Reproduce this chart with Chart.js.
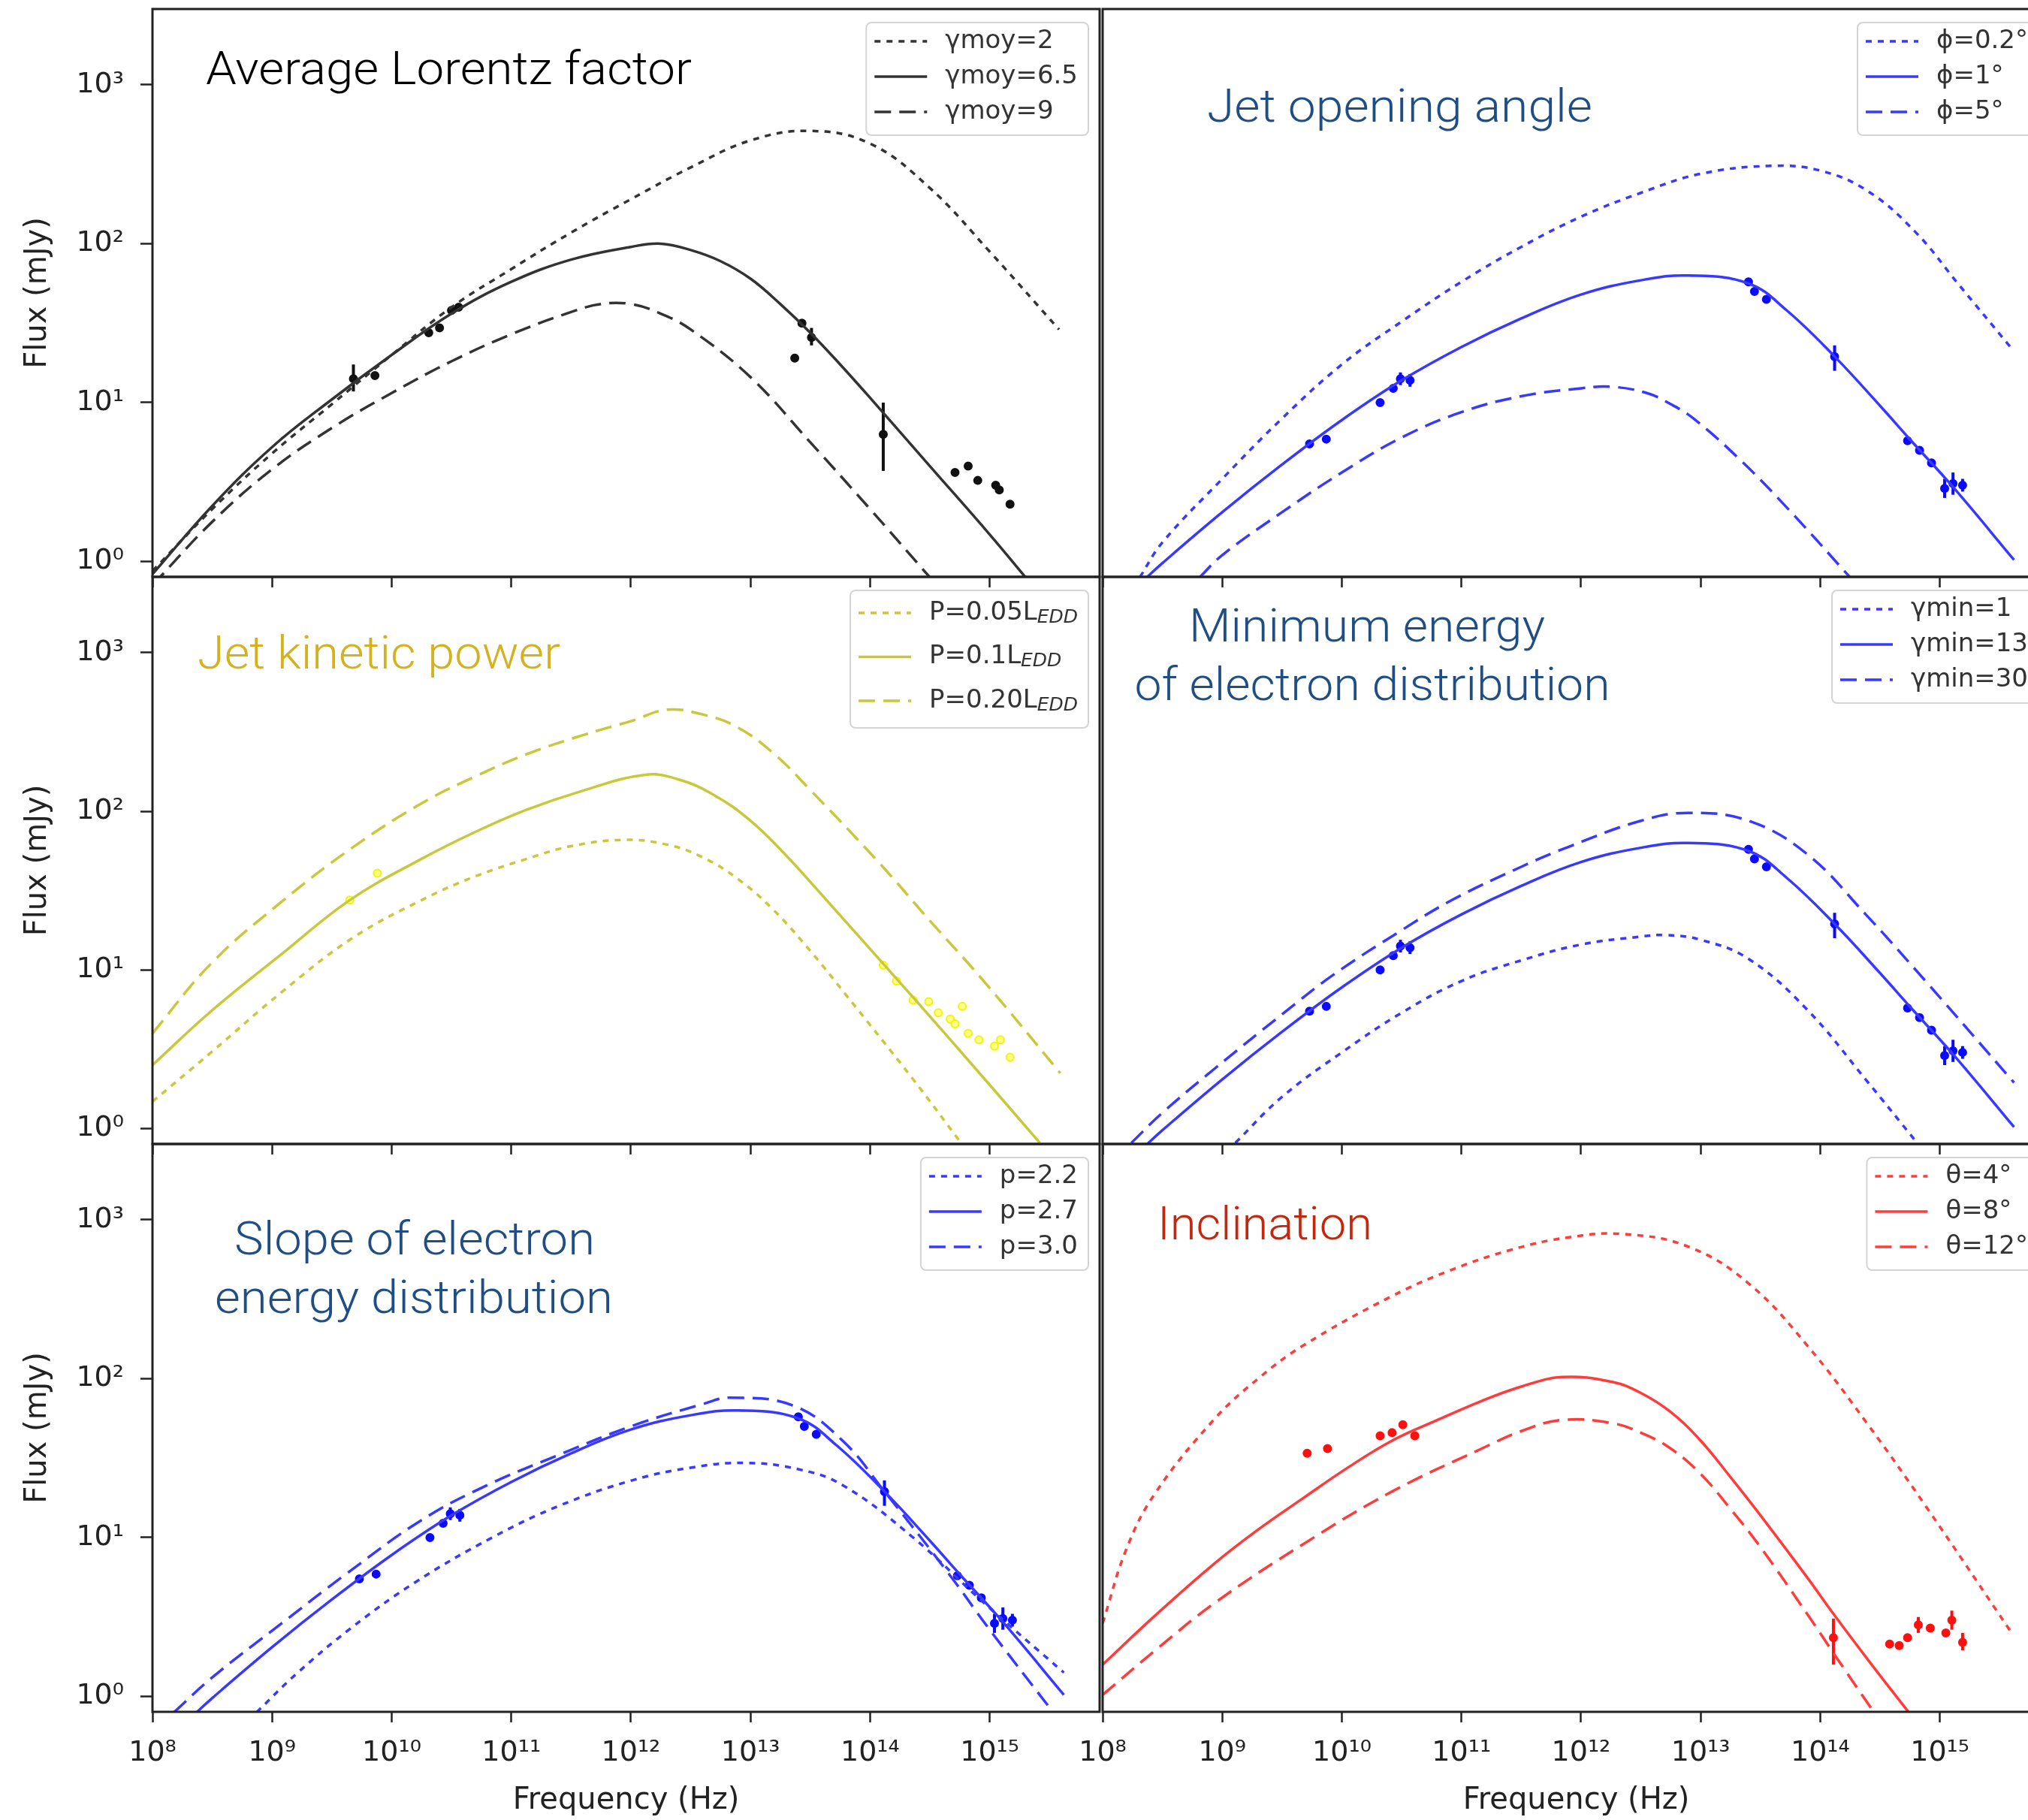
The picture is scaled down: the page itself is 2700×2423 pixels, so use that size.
<!DOCTYPE html>
<html>
<head>
<meta charset="utf-8">
<title>Jet SED parameter study</title>
<script src="https://cdn.jsdelivr.net/npm/chart.js@4.4.1/dist/chart.umd.min.js"></script>
<style>
  html, body { margin: 0; padding: 0; background: #fff; overflow: hidden; }
  body { width: 2700px; height: 2423px; position: relative; }
  canvas { position: absolute; }
</style>
</head>
<body>
<script>
'use strict';

// axis ticks
const xTickValues = [1e8, 1e9, 1e10, 1e11, 1e12, 1e13, 1e14, 1e15];
const xTickLabels = ['10⁸', '10⁹', '10¹⁰', '10¹¹', '10¹²', '10¹³', '10¹⁴', '10¹⁵'];
const yTickValues = [1, 10, 100, 1000];
const yTickLabels = ['10⁰', '10¹', '10²', '10³'];

// all curves: [log10 frequency (Hz), log10 flux (mJy)]

// average Lorentz factor
const lorentzMoy2 = [[8.0,-0.06],[8.5,0.33],[9.0,0.68],[9.5,0.99],[10.0,1.30],[10.5,1.60],[11.0,1.84],[11.5,2.07],[12.0,2.28],[12.5,2.48],[13.0,2.65],[13.5,2.71],[14.0,2.63],[14.5,2.35],[15.0,1.95],[15.58,1.46]];
const lorentzMoy65 = [[8.0,-0.08],[8.5,0.35],[9.0,0.72],[9.5,1.02],[10.0,1.30],[10.5,1.56],[11.0,1.76],[11.5,1.90],[12.0,1.98],[12.25,2.00],[12.5,1.96],[12.75,1.89],[13.0,1.78],[13.25,1.62],[13.5,1.44],[13.75,1.24],[14.0,1.03],[14.5,0.60],[15.0,0.17],[15.3,-0.10]];
const lorentzMoy9 = [[8.0,-0.15],[8.5,0.25],[9.0,0.58],[9.5,0.84],[10.0,1.06],[10.5,1.26],[11.0,1.43],[11.5,1.57],[11.75,1.62],[12.0,1.62],[12.25,1.56],[12.5,1.46],[13.0,1.16],[13.5,0.75],[14.0,0.33],[14.5,-0.10]];
const obsLorentz = [[9.68,1.15],[9.86,1.17],[10.31,1.44],[10.40,1.47],[10.50,1.58],[10.56,1.60],[13.37,1.28],[13.43,1.50],[13.51,1.41],[14.11,0.80],[14.71,0.56],[14.82,0.60],[14.90,0.51],[15.05,0.48],[15.08,0.45],[15.17,0.36]];
const errLorentz = [[9.68,1.07,1.24],[13.51,1.36,1.47],[14.11,0.57,1.00]];

// reference model (phi=1, gamma_min=13, p=2.7) shared by three panels
const fiducial = [[8.37,-0.10],[8.5,-0.01],[9.0,0.31],[9.5,0.61],[10.0,0.89],[10.5,1.14],[11.0,1.35],[11.5,1.53],[12.0,1.68],[12.5,1.77],[12.9,1.80],[13.4,1.75],[13.72,1.58],[14.12,1.29],[14.5,0.98],[14.76,0.76],[15.12,0.46],[15.62,0.01]];
const obsBlue = [[9.73,0.74],[9.87,0.77],[10.32,1.00],[10.43,1.09],[10.49,1.15],[10.57,1.14],[13.40,1.76],[13.45,1.70],[13.55,1.65],[14.12,1.29],[14.73,0.76],[14.83,0.70],[14.93,0.62],[15.04,0.46],[15.11,0.49],[15.19,0.48]];
const errBlue = [[10.49,1.11,1.19],[10.57,1.10,1.18],[14.12,1.20,1.36],[15.04,0.40,0.52],[15.11,0.42,0.56],[15.19,0.44,0.52]];

// jet opening angle
const phi02 = [[8.31,-0.10],[8.5,0.12],[9.0,0.52],[9.5,0.90],[10.0,1.24],[10.5,1.51],[11.0,1.76],[11.5,1.98],[12.0,2.17],[12.5,2.32],[13.0,2.44],[13.6,2.49],[14.0,2.46],[14.4,2.33],[14.8,2.07],[15.15,1.75],[15.59,1.35]];
const phi5 = [[8.81,-0.10],[9.0,0.04],[9.5,0.31],[10.0,0.56],[10.5,0.78],[11.0,0.94],[11.5,1.04],[12.0,1.09],[12.25,1.10],[12.55,1.06],[12.75,0.99],[12.94,0.90],[13.33,0.64],[13.72,0.34],[14.25,-0.10]];

// jet kinetic power
const power005 = [[8.0,0.17],[8.49,0.48],[9.08,0.86],[9.67,1.20],[10.25,1.44],[10.7,1.59],[11.13,1.70],[11.5,1.78],[11.95,1.82],[12.3,1.79],[12.6,1.71],[12.9,1.57],[13.19,1.38],[13.5,1.12],[13.78,0.86],[14.36,0.31],[14.76,-0.09]];
const power01 = [[8.0,0.40],[8.49,0.74],[9.08,1.10],[9.65,1.44],[10.25,1.70],[10.7,1.87],[11.13,2.01],[11.6,2.13],[12.12,2.23],[12.4,2.20],[12.7,2.10],[13.0,1.94],[13.3,1.72],[13.6,1.47],[14.12,1.03],[14.66,0.57],[15.42,-0.09]];
const power020 = [[8.0,0.60],[8.49,1.04],[9.08,1.43],[9.67,1.77],[10.25,2.05],[10.7,2.22],[11.13,2.36],[11.6,2.48],[12.01,2.57],[12.3,2.64],[12.6,2.61],[12.89,2.53],[13.2,2.36],[13.48,2.15],[14.07,1.68],[14.5,1.31],[14.95,0.93],[15.59,0.35]];
const obsYellow = [[9.65,1.44],[9.88,1.61],[14.11,1.03],[14.22,0.93],[14.36,0.81],[14.49,0.80],[14.57,0.73],[14.67,0.69],[14.71,0.66],[14.77,0.77],[14.82,0.60],[14.91,0.56],[15.04,0.52],[15.09,0.56],[15.17,0.45]];

// minimum electron energy
const gmin1 = [[9.11,-0.09],[9.5,0.20],[10.0,0.48],[10.5,0.73],[11.0,0.93],[11.5,1.06],[12.0,1.16],[12.5,1.21],[12.7,1.22],[13.0,1.19],[13.4,1.07],[13.89,0.75],[14.39,0.30],[14.81,-0.09]];
const gmin30 = [[8.24,-0.09],[8.5,0.10],[8.94,0.38],[9.5,0.72],[9.93,0.97],[10.5,1.25],[10.92,1.44],[11.5,1.65],[11.91,1.78],[12.5,1.94],[12.9,1.99],[13.4,1.94],[13.89,1.73],[14.38,1.35],[14.88,0.93],[15.62,0.29]];

// electron slope
const slope22 = [[8.87,-0.10],[9.2,0.14],[9.66,0.43],[10.2,0.72],[10.84,1.00],[11.4,1.20],[12.01,1.36],[12.5,1.44],[12.95,1.47],[13.4,1.43],[13.77,1.33],[14.36,1.00],[14.95,0.59],[15.62,0.15]];
const slope30 = [[8.18,-0.10],[8.5,0.12],[9.08,0.46],[9.6,0.76],[10.25,1.11],[10.8,1.33],[11.43,1.53],[12.0,1.70],[12.6,1.84],[12.83,1.88],[13.36,1.83],[13.77,1.61],[14.11,1.30],[14.65,0.78],[15.0,0.42],[15.5,-0.07]];

// inclination
const incl4 = [[8.0,0.46],[8.2,0.93],[8.44,1.28],[8.94,1.75],[9.3,2.00],[9.68,2.21],[10.42,2.52],[10.9,2.68],[11.41,2.81],[11.9,2.89],[12.36,2.91],[12.9,2.83],[13.4,2.60],[13.89,2.21],[14.39,1.72],[14.88,1.20],[15.6,0.40]];
const incl8 = [[8.0,0.20],[8.44,0.51],[8.94,0.84],[9.3,1.05],[9.68,1.25],[10.05,1.44],[10.42,1.61],[10.8,1.74],[11.17,1.86],[11.5,1.95],[11.84,2.01],[12.26,1.98],[12.5,1.91],[12.75,1.79],[13.0,1.61],[13.25,1.38],[13.5,1.14],[13.89,0.75],[14.11,0.52],[14.42,0.21],[14.74,-0.10]];
const incl12 = [[8.0,0.01],[8.44,0.29],[8.94,0.59],[9.68,0.96],[10.42,1.29],[11.17,1.56],[11.5,1.67],[11.84,1.74],[12.26,1.72],[12.5,1.66],[12.75,1.56],[13.0,1.40],[13.25,1.18],[13.5,0.94],[13.89,0.52],[14.14,0.24],[14.44,-0.09]];
const obsRed = [[9.71,1.53],[9.88,1.56],[10.32,1.64],[10.42,1.66],[10.51,1.71],[10.61,1.64],[14.11,0.37],[14.58,0.33],[14.66,0.32],[14.73,0.37],[14.82,0.45],[14.92,0.43],[15.05,0.40],[15.10,0.48],[15.19,0.34]];
const errRed = [[14.11,0.20,0.49],[14.82,0.40,0.50],[15.10,0.42,0.54],[15.19,0.29,0.40]];

const SOLID = [];
const DOTTED = [8, 8];
const DASHED = [22, 11];
const TICK_FONT = { family: 'DejaVu Sans', size: 38 };
const LABEL_FONT = { family: 'DejaVu Sans', size: 40 };
const LEG_NORMAL = { first: 25, row: 47, last: 31 };
const LEG_TALL = { first: 30, row: 58.5, last: 36 };

const COLS = [{ left: 0, width: 1471, padL: 0, yW: 203 }, { left: 1398, width: 1338, padL: 70, yW: 0 }];
const ROWS = [{ top: 2, height: 782, axisH: 16 }, { top: 758, height: 781, axisH: 16 }, { top: 1513, height: 910, axisH: 144 }];

const panels = [
  { id: 'lorentz', col: 0, row: 0, line: '#333333', ptFill: '#111111', ptEdge: '#111111', titleColor: '#000000',
    titles: [{ text: 'Average Lorentz factor', x: 71, y: 100, w: 647 }],
    curves: [[lorentzMoy2, 'γmoy=2', '', DOTTED], [lorentzMoy65, 'γmoy=6.5', '', SOLID], [lorentzMoy9, 'γmoy=9', '', DASHED]],
    obs: obsLorentz, err: errLorentz, legend: LEG_NORMAL },
  { id: 'angle', col: 1, row: 0, line: '#3838ff', ptFill: '#0a0aff', ptEdge: '#0a0aff', titleColor: '#1f4e85',
    titles: [{ text: 'Jet opening angle', x: 139, y: 150, w: 513 }],
    curves: [[phi02, 'ϕ=0.2°', '', DOTTED], [fiducial, 'ϕ=1°', '', SOLID], [phi5, 'ϕ=5°', '', DASHED]],
    obs: obsBlue, err: errBlue, legend: LEG_NORMAL },
  { id: 'power', col: 0, row: 1, line: '#c8c83c', ptFill: '#ffff8c', ptEdge: '#f4f400', titleColor: '#d4b11f',
    titles: [{ text: 'Jet kinetic power', x: 60, y: 122, w: 483 }],
    curves: [[power005, 'P=0.05L', 'EDD', DOTTED], [power01, 'P=0.1L', 'EDD', SOLID], [power020, 'P=0.20L', 'EDD', DASHED]],
    obs: obsYellow, err: [], legend: LEG_TALL },
  { id: 'gmin', col: 1, row: 1, line: '#3838ff', ptFill: '#0a0aff', ptEdge: '#0a0aff', titleColor: '#1f4e85',
    titles: [{ text: 'Minimum energy', cx: 352, y: 86, w: 474 }, { text: 'of electron distribution', cx: 359, y: 164, w: 633 }],
    curves: [[gmin1, 'γmin=1', '', DOTTED], [fiducial, 'γmin=13', '', SOLID], [gmin30, 'γmin=30', '', DASHED]],
    obs: obsBlue, err: errBlue, legend: LEG_NORMAL },
  { id: 'slope', col: 0, row: 2, line: '#3838ff', ptFill: '#0a0aff', ptEdge: '#0a0aff', titleColor: '#1f4e85',
    titles: [{ text: 'Slope of electron', cx: 349, y: 147, w: 480 }, { text: 'energy distribution', cx: 348, y: 225, w: 530 }],
    curves: [[slope22, 'p=2.2', '', DOTTED], [fiducial, 'p=2.7', '', SOLID], [slope30, 'p=3.0', '', DASHED]],
    obs: obsBlue, err: errBlue, legend: LEG_NORMAL },
  { id: 'incl', col: 1, row: 2, line: '#ff3c3c', ptFill: '#ff1010', ptEdge: '#ff1010', titleColor: '#c4260e',
    titles: [{ text: 'Inclination', x: 73, y: 127, w: 286 }],
    curves: [[incl4, 'θ=4°', '', DOTTED], [incl8, 'θ=8°', '', SOLID], [incl12, 'θ=12°', '', DASHED]],
    obs: obsRed, err: errRed, legend: LEG_NORMAL }
];

function pts(pairs) {
  return pairs.map(p => ({ x: Math.pow(10, p[0]), y: Math.pow(10, p[1]) }));
}

function buildDatasets(p) {
  const ds = [];
  p.curves.forEach(c => {
    ds.push({
      label: c[1], labelSub: c[2], inLegend: true,
      data: pts(c[0]), showLine: true, pointRadius: 0,
      borderColor: p.line, borderWidth: 3.5, borderDash: c[3],
      tension: 0.4, clip: 0
    });
  });
  ds.push({
    data: pts(p.obs), showLine: false, pointRadius: 5, pointHoverRadius: 5,
    pointBackgroundColor: p.ptFill, pointBorderColor: p.ptEdge, pointBorderWidth: 2, clip: 0
  });
  p.err.forEach(e => {
    ds.push({
      data: [{ x: Math.pow(10, e[0]), y: Math.pow(10, e[1]) }, { x: Math.pow(10, e[0]), y: Math.pow(10, e[2]) }],
      showLine: true, pointRadius: 0, borderColor: p.ptEdge, borderWidth: 4, clip: 0
    });
  });
  return ds;
}

// titles, legend box and frame drawn on top of each panel
function makeDecor(p) {
  return {
    id: 'decor',
    afterDraw(chart) {
      const ctx = chart.ctx, a = chart.chartArea;
      ctx.save();

      ctx.fillStyle = p.titleColor;
      ctx.font = '300 61px Roboto, "Helvetica Neue", Inter, "Liberation Sans", sans-serif';
      ctx.textAlign = 'left';
      ctx.textBaseline = 'alphabetic';
      p.titles.forEach(t => {
        const m = ctx.measureText(t.text).width;
        const left = t.cx !== undefined ? t.cx - t.w / 2 : t.x;
        ctx.save();
        ctx.translate(a.left + left, a.top + t.y);
        ctx.scale(t.w / m, 1);
        ctx.fillText(t.text, 0, 0);
        ctx.restore();
      });

      const L = p.legend;
      const items = chart.data.datasets.filter(d => d.inLegend);
      let maxW = 0;
      items.forEach(d => {
        ctx.font = '34px "DejaVu Sans"';
        let w = ctx.measureText(d.label).width;
        if (d.labelSub) {
          ctx.font = 'italic 25px "DejaVu Sans"';
          w += ctx.measureText(d.labelSub).width;
        }
        maxW = Math.max(maxW, w);
      });
      const boxW = 105 + maxW + 14;
      const boxH = L.first + L.row * (items.length - 1) + L.last;
      const bx = a.right - 15 - boxW;
      const by = a.top + 18;
      ctx.beginPath();
      ctx.roundRect(bx, by, boxW, boxH, 7);
      ctx.fillStyle = 'rgba(255,255,255,0.85)';
      ctx.fill();
      ctx.strokeStyle = '#d4d4d4';
      ctx.lineWidth = 2;
      ctx.stroke();
      items.forEach((d, i) => {
        const y = by + L.first + i * L.row;
        ctx.beginPath();
        ctx.setLineDash(d.borderDash);
        ctx.strokeStyle = d.borderColor;
        ctx.lineWidth = d.borderWidth;
        ctx.moveTo(bx + 11, y);
        ctx.lineTo(bx + 81, y);
        ctx.stroke();
        ctx.setLineDash([]);
        ctx.fillStyle = '#333333';
        ctx.textBaseline = 'middle';
        ctx.font = '34px "DejaVu Sans"';
        ctx.fillText(d.label, bx + 105, y);
        if (d.labelSub) {
          const w0 = ctx.measureText(d.label).width;
          ctx.font = 'italic 25px "DejaVu Sans"';
          ctx.fillText(d.labelSub, bx + 105 + w0, y + 6);
        }
      });

      ctx.strokeStyle = '#222222';
      ctx.lineWidth = 3;
      ctx.strokeRect(a.left, a.top, a.right - a.left, a.bottom - a.top);
      ctx.restore();
    }
  };
}

panels.forEach(p => {
  const col = COLS[p.col], row = ROWS[p.row];
  const leftCol = p.col === 0;
  const bottomRow = p.row === 2;

  const canvas = document.createElement('canvas');
  canvas.id = p.id;
  canvas.width = col.width;
  canvas.height = row.height;
  canvas.style.left = col.left + 'px';
  canvas.style.top = row.top + 'px';
  document.body.appendChild(canvas);

  new Chart(canvas, {
    type: 'scatter',
    data: { datasets: buildDatasets(p) },
    options: {
      responsive: false,
      animation: false,
      events: [],
      layout: { padding: { left: col.padL, right: 3, top: 10, bottom: 0 } },
      elements: { line: { capBezierPoints: false } },
      plugins: {
        legend: { display: false },
        tooltip: { enabled: false }
      },
      scales: {
        x: {
          type: 'logarithmic',
          min: 1e8,
          max: 8.3e15,
          afterBuildTicks: axis => { axis.ticks = xTickValues.map(v => ({ value: v })); },
          afterFit: axis => { axis.height = row.axisH; axis.paddingLeft = 0; axis.paddingRight = 0; },
          border: { display: false },
          grid: { display: true, drawOnChartArea: false, drawTicks: true, tickLength: 14, tickWidth: 2.5, tickColor: '#222222' },
          ticks: {
            display: bottomRow, autoSkip: false, maxRotation: 0, padding: 18,
            color: '#222222', font: TICK_FONT,
            callback: (v, i) => xTickLabels[i]
          },
          title: { display: bottomRow, text: 'Frequency (Hz)', color: '#222222', font: LABEL_FONT, padding: { top: 0, bottom: 1 } }
        },
        y: {
          type: 'logarithmic',
          display: leftCol,
          min: 0.8,
          max: 3000,
          afterBuildTicks: axis => { axis.ticks = yTickValues.map(v => ({ value: v })); },
          afterFit: axis => { axis.width = col.yW; axis.paddingTop = 0; axis.paddingBottom = 0; },
          border: { display: false },
          grid: { display: true, drawOnChartArea: false, drawTicks: true, tickLength: 16, tickWidth: 2.5, tickColor: '#222222' },
          ticks: {
            padding: 22, color: '#222222', font: TICK_FONT,
            callback: (v, i) => yTickLabels[i]
          },
          title: { display: true, text: 'Flux (mJy)', color: '#222222', font: LABEL_FONT, padding: { top: 27, bottom: 0 } }
        }
      }
    },
    plugins: [makeDecor(p)]
  });
});
</script>
</body>
</html>
